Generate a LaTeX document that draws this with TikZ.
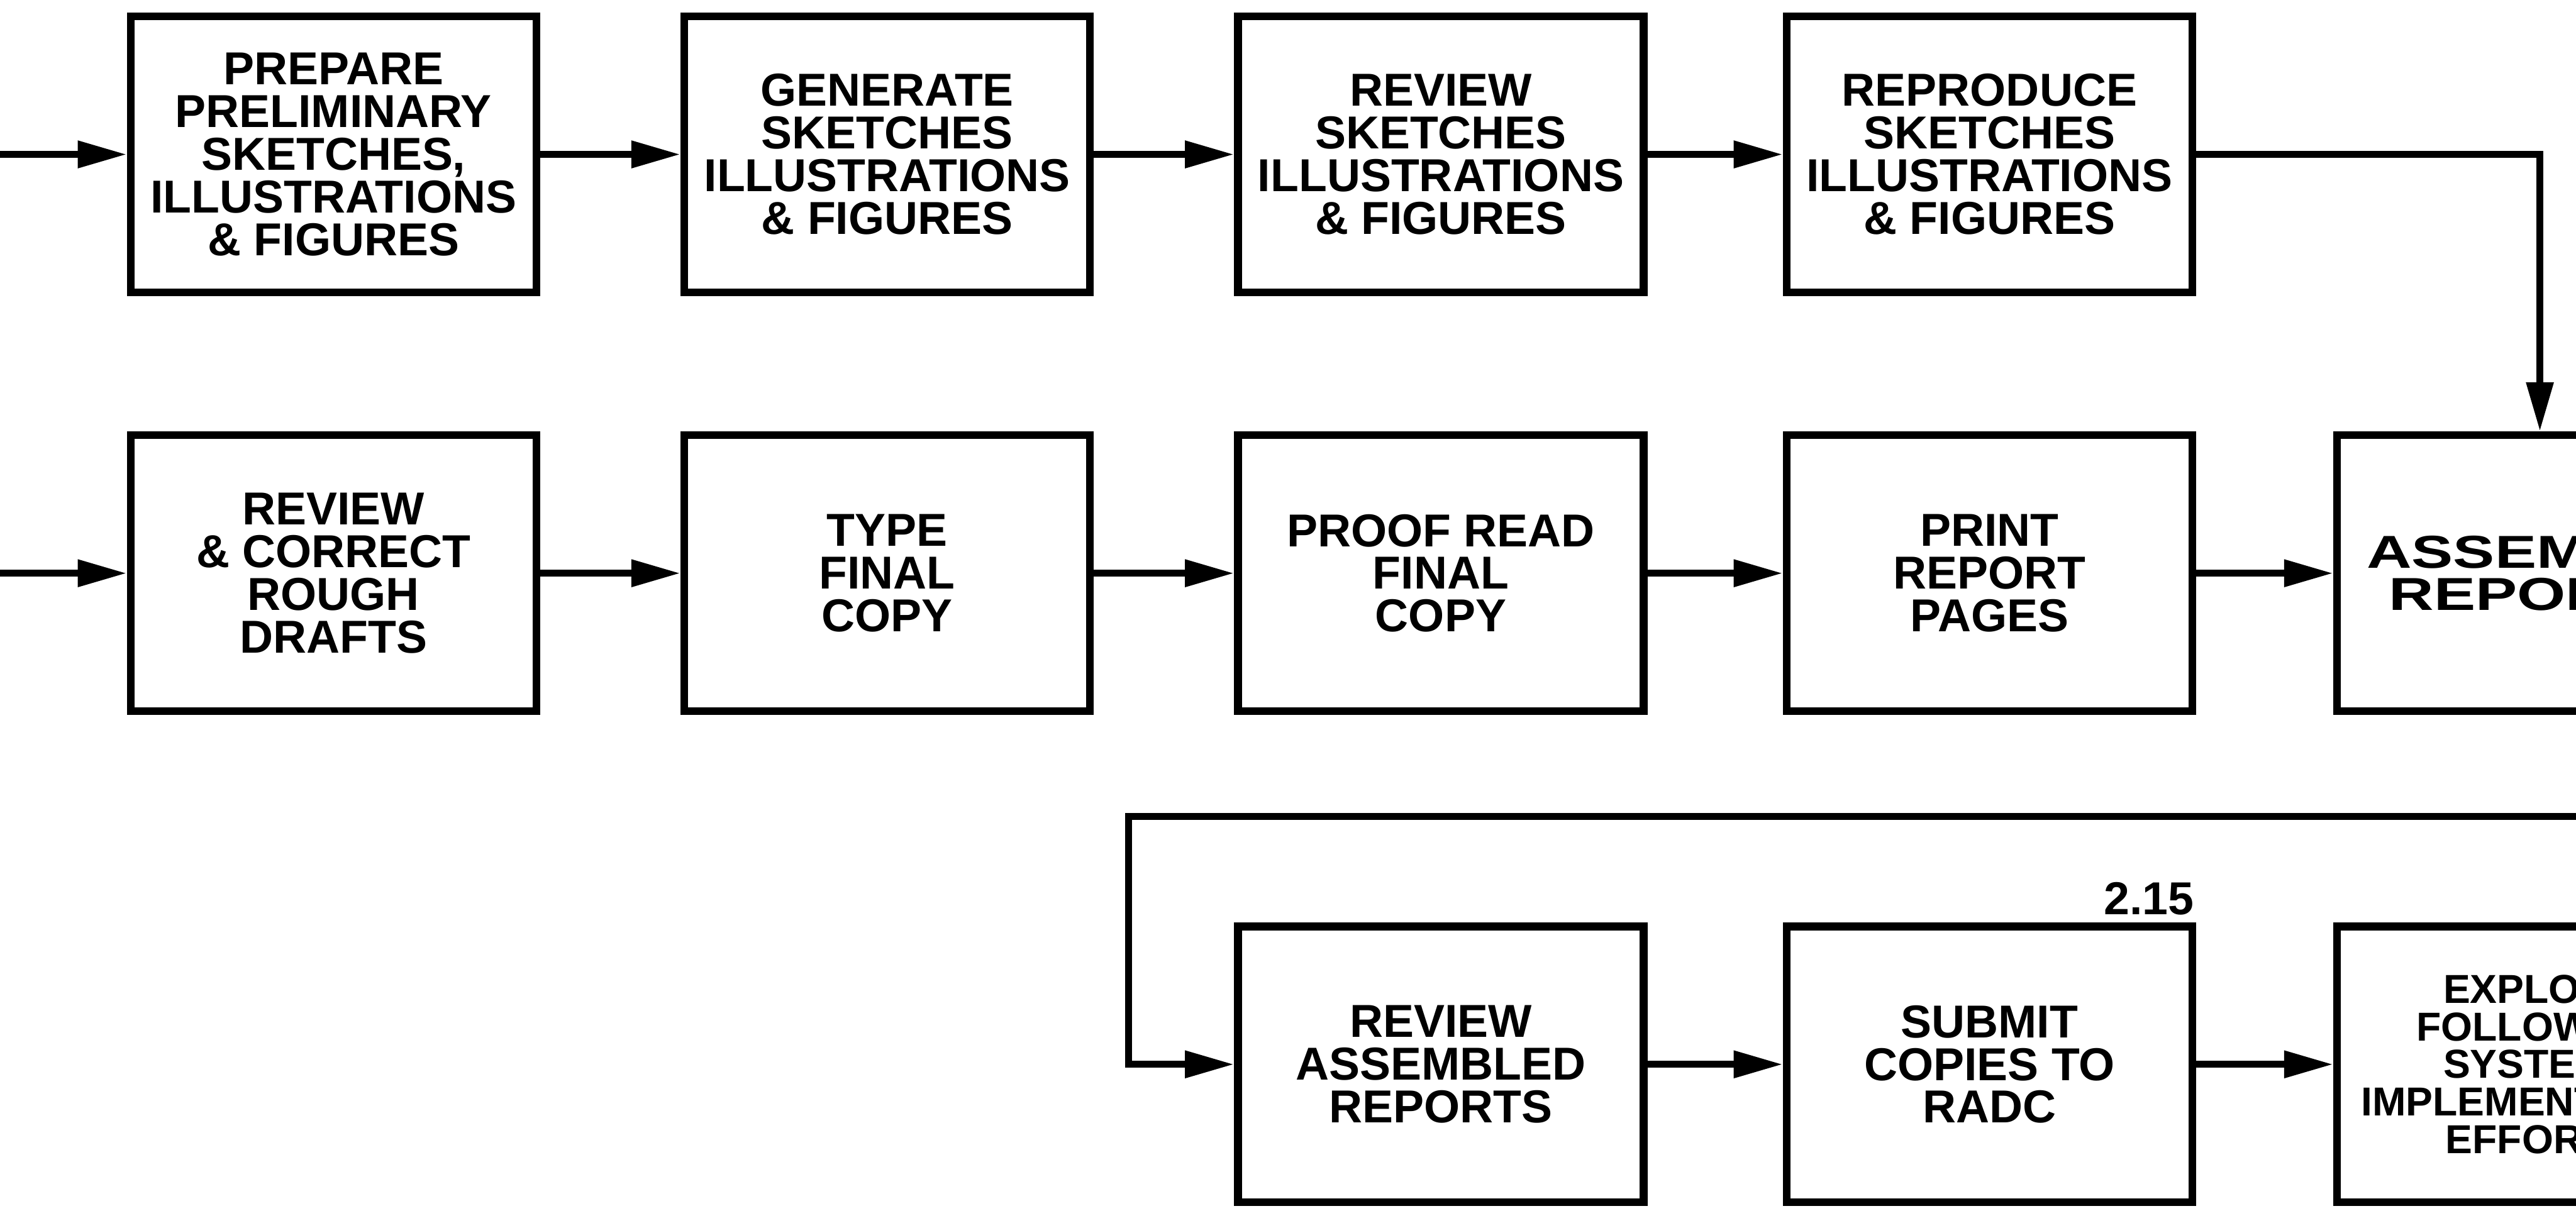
\documentclass[tikz,border=0pt]{standalone}
\usepackage{fontspec}
\setmainfont{Liberation Sans}
\usetikzlibrary{arrows.meta}
\begin{document}
\begin{tikzpicture}[x=0.02cm,y=-0.02cm,
  box/.style={draw, line width=2.7pt, rectangle, minimum width=4.94cm,
    minimum height=3.36cm, inner sep=0pt, align=center,
    font=\bfseries\fontsize{16}{14.8}\selectfont},
  widebox/.style={box, font=\bfseries\fontsize{16}{14.8}\selectfont\addfontfeature{FakeStretch=1.35}},
  tightbox/.style={box, font=\bfseries\fontsize{14}{13}\selectfont},
  flow/.style={line width=2.4pt, -{Triangle[length=17pt,width=9pt]}},
  tag/.style={font=\bfseries\fontsize{16}{16}\selectfont}]
\useasboundingbox (0,0) rectangle (1568,737);
\clip (0,0) rectangle (1568,737);

% first row: artwork
\node[box] (b1) at (203,94)  {PREPARE\\PRELIMINARY\\SKETCHES,\\ILLUSTRATIONS\\\& FIGURES};
\node[box] (b2) at (540,94)  {GENERATE\\SKETCHES\\ILLUSTRATIONS\\\& FIGURES};
\node[box] (b3) at (877,94)  {REVIEW\\SKETCHES\\ILLUSTRATIONS\\\& FIGURES};
\node[box] (b4) at (1211,94) {REPRODUCE\\SKETCHES\\ILLUSTRATIONS\\\& FIGURES};

% second row: text and printing
\node[box] (b5) at (203,349)  {REVIEW\\\& CORRECT\\ROUGH\\DRAFTS};
\node[box] (b6) at (540,349)  {TYPE\\FINAL\\COPY};
\node[box] (b7) at (877,349)  {PROOF READ\\FINAL\\COPY};
\node[box] (b8) at (1211,349) {PRINT\\REPORT\\PAGES};
\node[widebox] (b9) at (1546,349) {ASSEMBLE\\REPORTS};

% third row: delivery
\node[box] (b10) at (877,648)  {REVIEW\\ASSEMBLED\\REPORTS};
\node[box] (b11) at (1211,648) {SUBMIT\\COPIES TO\\RADC};
\node[tightbox] (b12) at (1546,648)
  {EXPLORE\\FOLLOW ON\\SYSTEMS\\IMPLEMENTATION\\EFFORTS};
\node[tag] (num) at (1308,547) {2.15};

% free ends of the connectors
\coordinate (in1) at (-10,94);
\coordinate (in2) at (-10,349);
\coordinate (loopR) at (1600,497);
\coordinate (loopL) at (687,497);

% connectors
\draw[flow] (in1) -- (b1.west);
\draw[flow] (b1.east) -- (b2.west);
\draw[flow] (b2.east) -- (b3.west);
\draw[flow] (b3.east) -- (b4.west);
\draw[flow] (b4.east) -| (b9.north);

\draw[flow] (in2) -- (b5.west);
\draw[flow] (b5.east) -- (b6.west);
\draw[flow] (b6.east) -- (b7.west);
\draw[flow] (b7.east) -- (b8.west);
\draw[flow] (b8.east) -- (b9.west);

\draw[flow] (loopR) -- (loopL) |- (b10.west);
\draw[flow] (b10.east) -- (b11.west);
\draw[flow] (b11.east) -- (b12.west);
\end{tikzpicture}
\end{document}
